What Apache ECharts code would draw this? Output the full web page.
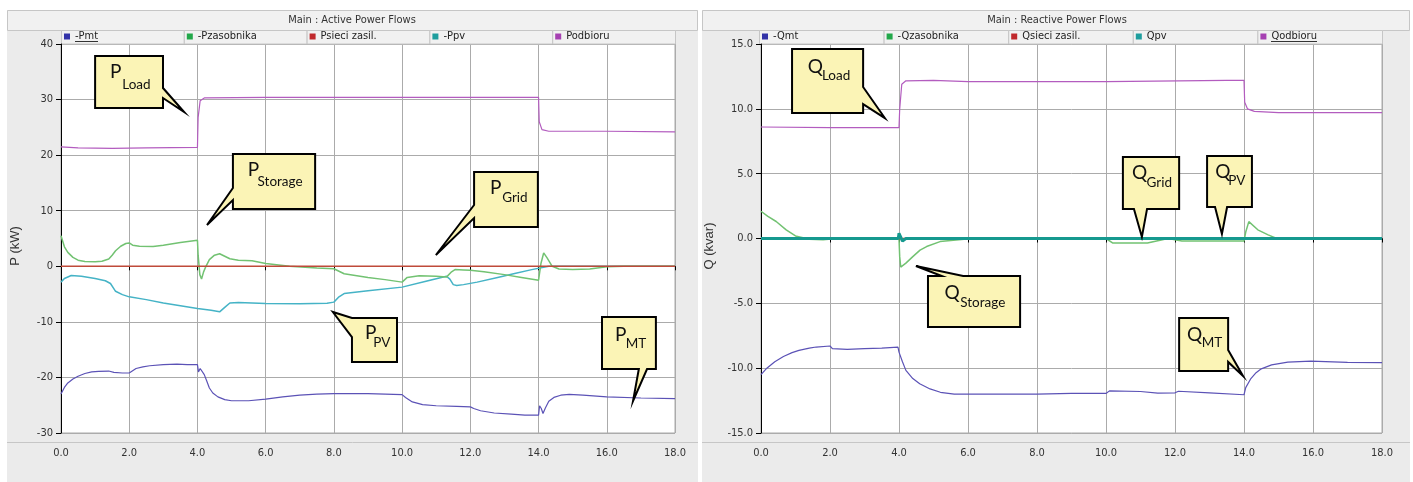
<!DOCTYPE html>
<html><head><meta charset="utf-8">
<script src="https://cdn.jsdelivr.net/npm/echarts@6/dist/echarts.min.js"></script>
<style>html,body{margin:0;padding:0;background:#fff}#c{width:1413px;height:482px}</style>
</head><body><div id="c"></div>
<script>
// ---------- DATA (time in s, values in kW / kvar) ----------
const pmt = [[0,-23.0],[0.1,-21.8],[0.2,-21.0],[0.35,-20.3],[0.5,-19.8],[0.7,-19.3],[0.9,-19.0],[1.1,-18.9],[1.4,-18.85],[1.55,-19.1],[1.8,-19.2],[2.0,-19.2],[2.1,-18.8],[2.2,-18.4],[2.4,-18.1],[2.6,-17.9],[3.0,-17.7],[3.4,-17.6],[3.7,-17.7],[4.0,-17.7],[4.03,-19.0],[4.08,-18.4],[4.13,-18.3],[4.2,-19.5],[4.27,-20.6],[4.35,-21.9],[4.45,-22.8],[4.6,-23.5],[4.8,-24.0],[5.0,-24.2],[5.5,-24.2],[6.0,-23.9],[6.5,-23.5],[7.0,-23.2],[7.5,-23.0],[8.0,-22.9],[9.0,-22.9],[10.0,-23.1],[10.1,-23.6],[10.3,-24.4],[10.6,-24.9],[11.0,-25.1],[11.6,-25.2],[12.0,-25.3],[12.1,-25.6],[12.3,-26.0],[12.7,-26.4],[13.2,-26.6],[13.6,-26.8],[14.0,-26.8],[14.03,-25.1],[14.08,-25.6],[14.13,-26.5],[14.2,-25.5],[14.3,-24.3],[14.45,-23.6],[14.65,-23.2],[14.9,-23.05],[15.3,-23.2],[16.0,-23.5],[17.0,-23.7],[18.0,-23.8]];
const pzas = [[0,5.5],[0.05,4.5],[0.1,3.5],[0.2,2.5],[0.35,1.6],[0.5,1.1],[0.7,0.85],[1.0,0.8],[1.2,0.9],[1.4,1.3],[1.5,2.0],[1.6,2.8],[1.75,3.6],[1.9,4.1],[2.0,4.2],[2.1,3.8],[2.3,3.6],[2.7,3.55],[3.0,3.8],[3.5,4.3],[4.0,4.7],[4.02,2.0],[4.07,-1.5],[4.12,-2.3],[4.18,-1.0],[4.25,0.0],[4.35,1.2],[4.5,2.0],[4.65,2.25],[4.8,1.8],[4.95,1.35],[5.2,1.1],[5.6,1.0],[6.0,0.5],[6.7,0.0],[7.5,-0.3],[8.0,-0.45],[8.3,-1.35],[9.0,-2.0],[9.5,-2.4],[10.0,-2.85],[10.15,-2.0],[10.5,-1.7],[11.0,-1.8],[11.3,-1.95],[11.45,-1.0],[11.55,-0.6],[11.8,-0.65],[12.0,-0.7],[12.4,-1.0],[13.0,-1.5],[13.5,-2.0],[14.0,-2.5],[14.07,0.5],[14.15,2.4],[14.25,1.5],[14.4,0.0],[14.6,-0.5],[15.0,-0.6],[15.5,-0.5],[16.0,-0.1],[16.5,0.0],[18.0,0.0]];
const psieci = [[0,0],[6,0],[12,0],[18,0]];
const ppv = [[0,-2.85],[0.1,-2.2],[0.3,-1.65],[0.6,-1.8],[1.0,-2.2],[1.3,-2.6],[1.45,-3.1],[1.6,-4.5],[1.8,-5.1],[2.0,-5.5],[2.5,-6.0],[3.0,-6.6],[3.5,-7.1],[4.0,-7.6],[4.4,-7.9],[4.65,-8.2],[4.8,-7.4],[4.95,-6.6],[5.2,-6.5],[6.0,-6.7],[7.0,-6.75],[7.8,-6.65],[8.0,-6.45],[8.15,-5.5],[8.3,-4.9],[9.0,-4.4],[10.0,-3.75],[10.7,-2.7],[11.3,-1.8],[11.4,-2.3],[11.5,-3.3],[11.6,-3.45],[11.8,-3.3],[12.2,-2.85],[12.8,-2.0],[13.3,-1.3],[13.8,-0.6],[14.3,0.0],[18.0,0.0]];
const podb = [[0,21.5],[0.5,21.3],[1.5,21.2],[2.5,21.3],[4.0,21.4],[4.02,26.8],[4.08,29.8],[4.2,30.3],[6,30.4],[10,30.4],[14.0,30.4],[14.02,26.0],[14.1,24.6],[14.3,24.3],[16,24.3],[18,24.2]];

const qmt = [[0,-10.5],[0.15,-10.05],[0.4,-9.5],[0.65,-9.1],[0.9,-8.8],[1.1,-8.63],[1.4,-8.45],[1.6,-8.37],[2.0,-8.29],[2.07,-8.5],[2.5,-8.55],[3.0,-8.5],[3.5,-8.45],[3.97,-8.37],[4.0,-8.76],[4.1,-9.5],[4.2,-10.17],[4.4,-10.8],[4.6,-11.2],[4.9,-11.6],[5.2,-11.86],[5.6,-12.0],[6.5,-12.0],[8.0,-12.0],[9.0,-11.95],[10.0,-11.95],[10.1,-11.75],[11.0,-11.8],[11.5,-11.93],[12.0,-11.9],[12.1,-11.78],[13.0,-11.9],[14.0,-12.05],[14.05,-11.5],[14.2,-10.8],[14.35,-10.35],[14.5,-10.05],[14.8,-9.75],[15.27,-9.53],[15.94,-9.45],[17.0,-9.55],[18.0,-9.58]];
const qzas = [[0,2.1],[0.2,1.7],[0.44,1.31],[0.73,0.67],[1.0,0.2],[1.4,-0.05],[1.8,-0.1],[2.2,0],[4.0,0],[4.02,-1.4],[4.05,-2.2],[4.2,-1.9],[4.4,-1.4],[4.61,-0.9],[4.8,-0.62],[5.19,-0.24],[5.96,-0.03],[10.0,0],[10.2,-0.35],[11.2,-0.35],[11.8,0],[12.2,-0.2],[14.0,-0.2],[14.05,0.5],[14.14,1.3],[14.4,0.67],[14.7,0.28],[14.95,0],[18,0]];
const qsieci = [[0,0],[6,0],[12,0],[18,0]];
const qpv = [[0,0],[3.98,0],[4.0,0.4],[4.05,0.1],[4.1,-0.2],[4.2,0],[18,0]];
const qodb = [[0,8.6],[2,8.55],[4.0,8.55],[4.02,9.97],[4.08,11.9],[4.2,12.16],[5,12.2],[6,12.1],[10,12.1],[13.5,12.2],[14.0,12.2],[14.02,10.5],[14.1,10.0],[14.3,9.8],[15,9.7],[18,9.7]];

const namesP = ['-Pmt','-Pzasobnika','Psieci zasil.','-Ppv','Podbioru'];
const namesQ = ['-Qmt','-Qzasobnika','Qsieci zasil.','Qpv','Qodbioru'];
const titles = ['Main : Active Power Flows','Main : Reactive Power Flows'];
const axisNames = ['P (kW)','Q (kvar)'];

// ---------- STYLE ----------
const NARROW = "'Liberation Sans Narrow','DejaVu Sans Condensed','Liberation Sans',sans-serif";
const C = {mt:'#5b52b6', zas:'#72c272', sieci:'#bf4a3a', pv:'#45b3c6', pvQ:'#16998f', odb:'#b35cbf'};
const markerC = ['#3333a8','#22a84a','#c0282c','#1e9e9e','#a640b2'];

const chart = echarts.init(document.getElementById('c'), null, {renderer:'canvas'});
const G = [{left:61, top:44, width:614, height:389},{left:761, top:44, width:621, height:389}];

function xAx(i){return {type:'value', gridIndex:i, min:0, max:18, interval:2, offset:9,
  axisLine:{show:true, lineStyle:{color:'#000', width:1}}, axisTick:{show:true, length:4, lineStyle:{color:'#000'}},
  axisLabel:{margin:6, fontSize:11, fontFamily:NARROW, color:'#333', formatter:v=>v.toFixed(1)},
  splitLine:{show:true, lineStyle:{color:'#ababab', width:1}}};}
function yAx(i,min,max,iv,fmt){return {type:'value', gridIndex:i, min:min, max:max, interval:iv,
  axisLine:{show:true, onZero:false, lineStyle:{color:'#000', width:1}}, axisTick:{show:true, length:5, lineStyle:{color:'#000'}},
  axisLabel:{margin:8, fontSize:11, fontFamily:NARROW, color:'#333', formatter:fmt},
  splitLine:{show:true, lineStyle:{color:'#ababab', width:1}}};}

function ser(name, data, g, color, w, z){return {name, type:'line', data, xAxisIndex:g, yAxisIndex:g,
  showSymbol:false, symbol:'none', lineStyle:{color, width:w}, itemStyle:{color}, z:z||2, silent:true};}

const legendStarts = [[61,122.8],[759,124.6]];
const legends = [];
[namesP, namesQ].forEach((arr, g)=>{
  arr.forEach((n,i)=>{
    legends.push({data:[{name:n, itemStyle:{color:markerC[i]}}], left: legendStarts[g][0]+3+i*legendStarts[g][1], top:31,
      icon:'rect', itemWidth:6, itemHeight:6, padding:0, itemGap:0, selectedMode:false,
      textStyle:{fontSize:11, fontFamily:NARROW, color:'#222'}});
  });
});

chart.setOption({
  animation:false,
  backgroundColor:'#ebebeb',
  grid: G.map(g=>Object.assign({show:true, backgroundColor:'#fff', borderColor:'#ababab', borderWidth:1}, g)),
  xAxis:[xAx(0), xAx(1)],
  yAxis:[yAx(0,-30,40,10,v=>String(v)), yAx(1,-15,15,5,v=>v.toFixed(1))],
  legend: legends,
  series:[
    ser(namesP[4], podb, 0, C.odb, 1.2),
    ser(namesP[0], pmt, 0, C.mt, 1.2),
    ser(namesP[3], ppv, 0, C.pv, 1.5),
    ser(namesP[1], pzas, 0, C.zas, 1.5),
    ser(namesP[2], psieci, 0, C.sieci, 1.5),
    ser(namesQ[4], qodb, 1, C.odb, 1.2),
    ser(namesQ[0], qmt, 1, C.mt, 1.2),
    ser(namesQ[1], qzas, 1, C.zas, 1.5),
    ser(namesQ[2], qsieci, 1, C.sieci, 1.5),
    ser(namesQ[3], qpv, 1, C.pvQ, 3)
  ]
});

// ---------- CALLOUTS (anchored in data coordinates) ----------
const calloutsP = [
  {m:'P', s:'Load', box:[1.0,37.84,2.99,28.48], edge:'right', base:[32.08,30.28], tip:[3.61,27.76], tp:[0.22,0.30], ts:[0.40,0.56]},
  {m:'P', s:'Storage', box:[5.04,20.21,7.45,10.31], edge:'left', base:[14.09,11.93], tip:[4.28,7.43], tp:[0.18,0.29], ts:[0.30,0.51]},
  {m:'P', s:'Grid', box:[12.11,16.97,13.98,7.07], edge:'left', base:[11.03,8.69], tip:[10.99,2.03], tp:[0.25,0.29], ts:[0.44,0.47]},
  {m:'P', s:'PV', box:[8.53,-9.31,9.85,-17.22], edge:'left', base:[-9.31,-12.73], tip:[7.97,-8.23], tp:[0.29,0.34], ts:[0.47,0.57]},
  {m:'P', s:'MT', box:[15.86,-9.13,17.44,-18.48], edge:'bottom', base:[16.94,17.18], tip:[16.77,-24.24], tp:[0.24,0.35], ts:[0.44,0.52]}
];
const calloutsQ = [
  {m:'Q', s:'Load', box:[0.90,14.61,2.96,9.68], edge:'right', base:[11.68,10.37], tip:[3.59,9.29], tp:[0.22,0.28], ts:[0.42,0.42]},
  {m:'Q', s:'Storage', box:[4.84,-2.89,7.51,-6.82], edge:'top', base:[5.24,5.86], tip:[4.49,-2.12], tp:[0.18,0.34], ts:[0.35,0.52]},
  {m:'Q', s:'Grid', box:[10.49,6.29,12.12,2.28], edge:'bottom', base:[10.81,11.19], tip:[11.04,0.12], tp:[0.16,0.31], ts:[0.42,0.49]},
  {m:'Q', s:'PV', box:[12.93,6.36,14.23,2.43], edge:'bottom', base:[13.16,13.51], tip:[13.36,0.35], tp:[0.18,0.31], ts:[0.47,0.48]},
  {m:'Q', s:'MT', box:[12.12,-6.13,13.54,-10.22], edge:'right', base:[-8.60,-9.52], tip:[13.97,-10.60], tp:[0.16,0.32], ts:[0.46,0.46]}
];

function calloutEls(c, g){
  const p = (x,y)=>chart.convertToPixel({gridIndex:g},[x,y]);
  const a = p(c.box[0], c.box[1]), b = p(c.box[2], c.box[3]);
  const x1=a[0], y1=a[1], x2=b[0], y2=b[1];
  const tip = p(c.tip[0], c.tip[1]);
  let pts;
  if(c.edge==='right'||c.edge==='left'){
    let ya=p(0,c.base[0])[1], yb=p(0,c.base[1])[1]; if(ya>yb){const t=ya;ya=yb;yb=t;}
    if(c.edge==='right') pts=[[x1,y1],[x2,y1],[x2,ya],tip,[x2,yb],[x2,y2],[x1,y2]];
    else pts=[[x1,y1],[x2,y1],[x2,y2],[x1,y2],[x1,yb],tip,[x1,ya]];
  } else {
    let xa=p(c.base[0],0)[0], xb=p(c.base[1],0)[0]; if(xa>xb){const t=xa;xa=xb;xb=t;}
    if(c.edge==='top') pts=[[x1,y1],[xa,y1],tip,[xb,y1],[x2,y1],[x2,y2],[x1,y2]];
    else pts=[[x1,y1],[x2,y1],[x2,y2],[xb,y2],tip,[xa,y2],[x1,y2]];
  }
  const w=x2-x1, h=y2-y1;
  return [
    {type:'polygon', z:100, silent:true, shape:{points:pts}, style:{fill:'#fbf4b6', stroke:'#000', lineWidth:2, lineJoin:'miter'}},
    {type:'text', z:101, silent:true, x:x1+c.tp[0]*w, y:y1+c.tp[1]*h,
      style:{text:c.m, fontSize:19, fontFamily:"Lato,'Open Sans',sans-serif", fill:'#111', align:'left', verticalAlign:'middle', textAlign:'left', textVerticalAlign:'middle'}},
    {type:'text', z:101, silent:true, x:x1+c.ts[0]*w, y:y1+c.ts[1]*h,
      style:{text:c.s, fontSize:13.5, fontFamily:"Lato,'Open Sans',sans-serif", fill:'#111', align:'left', verticalAlign:'middle', textAlign:'left', textVerticalAlign:'middle'}}
  ];
}

// ---------- FRAME ----------
const els = [];
const white = {fill:'#ffffff'};
els.push({type:'rect', z:-1, silent:true, shape:{x:0,y:0,width:1413,height:10}, style:white});
els.push({type:'rect', z:-1, silent:true, shape:{x:0,y:0,width:7,height:482}, style:white});
els.push({type:'rect', z:-1, silent:true, shape:{x:698,y:0,width:4,height:482}, style:white});
els.push({type:'rect', z:-1, silent:true, shape:{x:1410,y:0,width:3,height:482}, style:white});
const panels = [[7,698,352],[702,1410,1057]];
panels.forEach((pn,g)=>{
  els.push({type:'rect', z:0, silent:true, shape:{x:pn[0]+0.5,y:10.5,width:pn[1]-pn[0]-1,height:20}, style:{fill:'#f1f1f1', stroke:'#c6c6c6', lineWidth:1}});
  els.push({type:'text', z:1, silent:true, x:pn[2], y:20.5, style:{text:titles[g], fontSize:11, fontFamily:NARROW, fill:'#333', align:'center', verticalAlign:'middle', textAlign:'center', textVerticalAlign:'middle'}});
  for(let i=0;i<5;i++){
    els.push({type:'rect', z:0, silent:true, shape:{x:legendStarts[g][0]+i*legendStarts[g][1]+0.5, y:30.5, width:legendStarts[g][1], height:13.5}, style:{fill:'#f1f1f1', stroke:'#c6c6c6', lineWidth:1}});
  }
  els.push({type:'line', z:0, silent:true, shape:{x1:pn[0], y1:442.5, x2:pn[1], y2:442.5}, style:{stroke:'#c6c6c6', lineWidth:1}});
  els.push({type:'text', z:1, silent:true, x:g===0?15:709, y:246, rotation:Math.PI/2,
    style:{text:axisNames[g], fontSize:13, fontFamily:"'Liberation Sans',Arial,sans-serif", fill:'#333', align:'center', verticalAlign:'middle', textAlign:'center', textVerticalAlign:'middle'}});
});
// underlines of the highlighted legend entries
els.push({type:'line', z:5, silent:true, shape:{x1:75, y1:41.5, x2:98, y2:41.5}, style:{stroke:'#333', lineWidth:1}});
els.push({type:'line', z:5, silent:true, shape:{x1:1271, y1:41.5, x2:1317, y2:41.5}, style:{stroke:'#333', lineWidth:1}});
calloutsP.forEach(c=>els.push(...calloutEls(c,0)));
calloutsQ.forEach(c=>els.push(...calloutEls(c,1)));
chart.setOption({graphic:{elements:els}});
</script></body></html>
